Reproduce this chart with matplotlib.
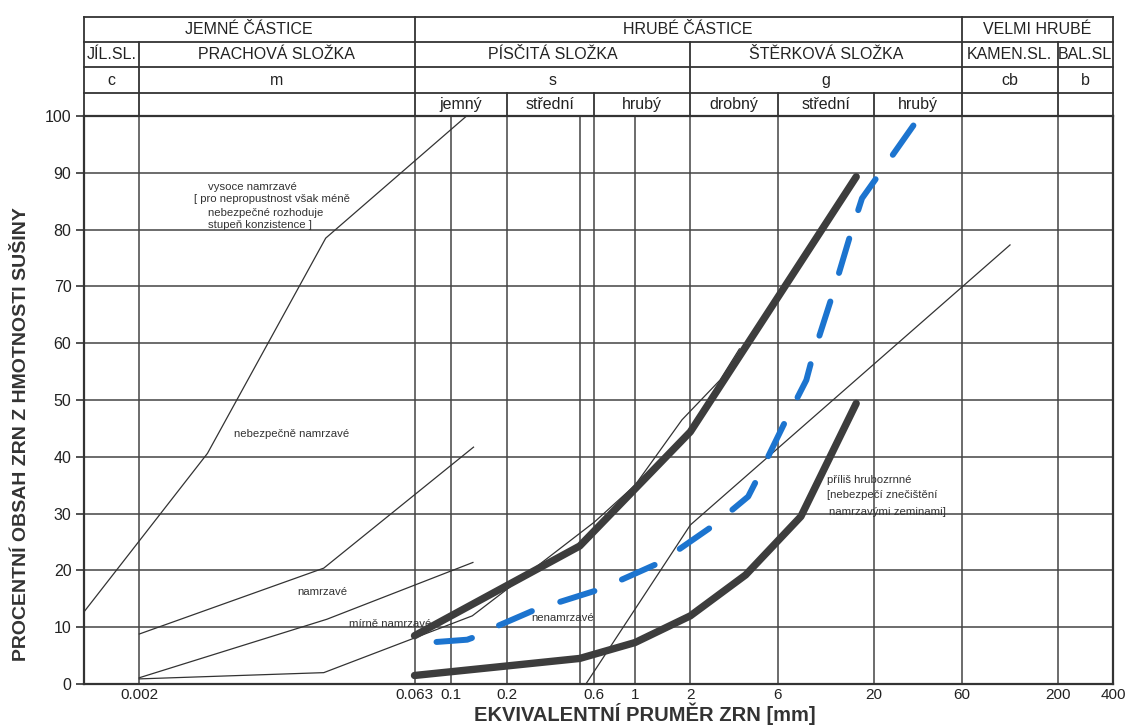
import matplotlib
matplotlib.use("Agg")
import matplotlib.pyplot as plt
from matplotlib.ticker import NullLocator

plt.rcParams['font.family'] = ['Liberation Sans', 'DejaVu Sans']

# grain size [mm] vs. passing [%]
upper_x = [0.063, 0.5, 2, 16]
upper_y = [8.5, 24.3, 44.4, 89.3]
lower_x = [0.063, 0.5, 1, 2, 4, 8, 16]
lower_y = [1.5, 4.5, 7.3, 12.0, 19.2, 29.5, 49.4]

sample_x = [0.083, 0.122, 0.137, 0.178, 0.287, 0.648, 1.37, 2.67, 4.13, 4.69,
            6.66, 8.56, 9.2, 11.8, 15.0, 17.2, 21.6, 34.4]
sample_y = [7.4, 7.8, 8.4, 10.2, 13.1, 16.7, 21.4, 27.9, 33.0, 36.5,
            46.6, 53.5, 57.3, 68.2, 79.5, 85.5, 90.0, 99.3]

# frost susceptibility boundaries
bound_a_x = [0.001, 0.0047, 0.0207, 0.121]
bound_a_y = [12.7, 40.6, 78.5, 100]
bound_b_x = [0.002, 0.0202, 0.132]
bound_b_y = [8.8, 20.4, 41.7]
bound_c_x = [0.002, 0.021, 0.131]
bound_c_y = [1.1, 11.4, 21.4]
bound_d_x = [0.002, 0.0202, 0.063, 0.13, 0.3, 0.6, 1, 1.8, 2.9, 3.7]
bound_d_y = [0.9, 2.0, 8.1, 12.0, 21.0, 28.5, 35.0, 46.5, 53.5, 59.0]
bound_e_x = [0.54, 2, 110]
bound_e_y = [0, 28, 77.3]

tick_pos = [0.002, 0.063, 0.1, 0.2, 0.6, 1, 2, 6, 20, 60, 200, 400]
tick_lab = ["0.002", "0.063", "0.1", "0.2", "0.6", "1", "2", "6", "20", "60", "200", "400"]
grid_x = [0.002, 0.063, 0.1, 0.2, 0.5, 0.6, 1, 2, 6, 20, 60, 200]

# header table
row1 = [("JEMNÉ ČÁSTICE", 0.001, 0.063), ("HRUBÉ ČÁSTICE", 0.063, 60),
        ("VELMI HRUBÉ", 60, 400)]
row2_bounds = [(0.001, 0.002), (0.002, 0.063), (0.063, 2), (2, 60), (60, 200), (200, 400)]
row2 = ["JÍL.SL.", "PRACHOVÁ SLOŽKA", "PÍSČITÁ SLOŽKA", "ŠTĚRKOVÁ SLOŽKA",
        "KAMEN.SL.", "BAL.SL"]
row3 = ["c", "m", "s", "g", "cb", "b"]
row4 = [("jemný", 0.063, 0.2), ("střední", 0.2, 0.6), ("hrubý", 0.6, 2),
        ("drobný", 2, 6), ("střední", 6, 20), ("hrubý", 20, 60)]

W, H = 1129, 727
fig = plt.figure(figsize=(W / 100, H / 100), dpi=100)
ax = fig.add_axes([84 / W, 1 - 684 / H, (1113 - 84) / W, (684 - 116) / H])
ax.set_xscale('log')
ax.set_xlim(0.001, 400)
ax.set_ylim(0, 100)

grid_c = '#444444'
for gx in grid_x:
    ax.plot([gx, gx], [0, 100], color=grid_c, lw=1.1, zorder=1)
for gy in range(10, 100, 10):
    ax.axhline(gy, color=grid_c, lw=1.1, zorder=1)

# header lines (above the plot)
y1, y2, y3, y4 = 104.05, 108.6, 113.0, 117.4
for hy in [y1, y2, y3, y4]:
    ax.plot([0.001, 400], [hy, hy], color='#333333', lw=1.3, clip_on=False)
vert = {0.001: y4, 0.002: y3, 0.063: y4, 0.2: y1, 0.6: y1, 2: y3,
        6: y1, 20: y1, 60: y4, 200: y3, 400: y4}
for vx, top in vert.items():
    ax.plot([vx, vx], [100, top], color='#333333', lw=1.3, clip_on=False)

def gmid(a, b):
    return (a * b) ** 0.5

hfont = 11.5
for lab, a, b in row1:
    ax.text(gmid(a, b), (y3 + y4) / 2, lab, ha='center', va='center', fontsize=hfont, color='#222222')
for lab, (a, b) in zip(row2, row2_bounds):
    ax.text(gmid(a, b), (y2 + y3) / 2, lab, ha='center', va='center', fontsize=hfont, color='#222222')
for lab, (a, b) in zip(row3, row2_bounds):
    ax.text(gmid(a, b), (y1 + y2) / 2, lab, ha='center', va='center', fontsize=hfont, color='#222222')
for lab, a, b in row4:
    ax.text(gmid(a, b), (100 + y1) / 2, lab, ha='center', va='center', fontsize=hfont, color='#222222')

# thin boundary lines
for bx, by in [(bound_a_x, bound_a_y), (bound_b_x, bound_b_y), (bound_c_x, bound_c_y),
               (bound_d_x, bound_d_y), (bound_e_x, bound_e_y)]:
    ax.plot(bx, by, color='#333333', lw=0.9, zorder=2)

# annotations
small = 8.2
notes = [
    (0.00471, 87.5, "vysoce namrzavé"),
    (0.00395, 85.3, "[ pro nepropustnost však méně"),
    (0.00471, 83.0, "nebezpečné rozhoduje"),
    (0.00471, 80.8, "stupeň konzistence ]"),
    (0.00653, 44.0, "nebezpečně namrzavé"),
    (0.01455, 16.2, "namrzavé"),
    (0.02756, 10.6, "mírně namrzavé"),
    (0.2729, 11.6, "nenamrzavé"),
    (11.1, 35.9, "příliš hrubozrnné"),
    (11.1, 33.3, "[nebezpečí znečištění"),
    (11.4, 30.3, "namrzavými zeminami]"),
]
for nx, ny, txt in notes:
    ax.text(nx, ny, txt, ha='left', va='center', fontsize=small, color='#333333', zorder=2)

# grading envelope
env = dict(color='#3d3d3d', lw=5.3, solid_capstyle='round', solid_joinstyle='round', zorder=4)
ax.plot(upper_x, upper_y, **env)
ax.plot(lower_x, lower_y, **env)

# tested sample
ax.plot(sample_x, sample_y, color='#1c74cf', lw=4.3, linestyle=(0, (6, 5)),
        dash_capstyle='round', dash_joinstyle='round', zorder=5, clip_on=False)

ax.set_xticks(tick_pos)
ax.set_xticklabels(tick_lab)
ax.xaxis.set_minor_locator(NullLocator())
ax.set_yticks(range(0, 101, 10))
ax.tick_params(axis='x', length=0, pad=3, labelsize=11, colors='#222222')
ax.tick_params(axis='y', length=6, width=1.1, pad=3, labelsize=11.5, colors='#222222')
for s in ax.spines.values():
    s.set_linewidth(1.6)
    s.set_color('#333333')

fig.text(22 / W, 1 - 434 / H, "PROCENTNÍ OBSAH ZRN Z HMOTNOSTI SUŠINY", rotation=90,
         ha='center', va='center', fontsize=14, fontweight='bold', color='#333333')
fig.text(645 / W, 1 - 714 / H, "EKVIVALENTNÍ PRUMĚR ZRN [mm]", ha='center', va='center',
         fontsize=14.5, fontweight='bold', color='#333333')

fig.savefig("out.png", dpi=100)
